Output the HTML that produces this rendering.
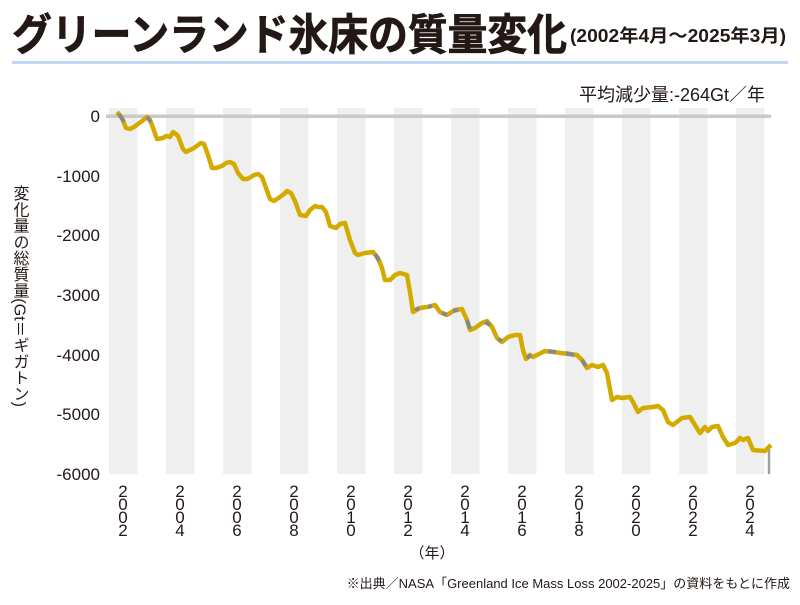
<!DOCTYPE html>
<html><head><meta charset="utf-8"><style>
body{margin:0;background:#fff;width:800px;height:600px;overflow:hidden}
svg text{font-family:"Liberation Sans","Noto Sans CJK JP",sans-serif}
</style></head><body>
<svg width="800" height="600" xmlns="http://www.w3.org/2000/svg">
<text x="12" y="50" font-size="43" font-weight="bold" fill="#231815" stroke="#231815" stroke-width="0.8" textLength="555" lengthAdjust="spacingAndGlyphs">グリーンランド氷床の質量変化</text>
<text x="570" y="42" font-size="18" font-weight="bold" fill="#231815" textLength="216" lengthAdjust="spacingAndGlyphs">(2002年4月～2025年3月)</text>
<rect x="12" y="61" width="776" height="3" fill="#bfd7f4"/>
<text x="765" y="101" font-size="18" text-anchor="end" fill="#231815">平均減少量:-264Gt／年</text>
<g fill="#efefef">
<rect x="109" y="108" width="28.5" height="366"/><rect x="166" y="108" width="28.5" height="366"/><rect x="223" y="108" width="28.5" height="366"/><rect x="280" y="108" width="28.5" height="366"/><rect x="337" y="108" width="28.5" height="366"/><rect x="394" y="108" width="28.5" height="366"/><rect x="451" y="108" width="28.5" height="366"/><rect x="508" y="108" width="28.5" height="366"/><rect x="565" y="108" width="28.5" height="366"/><rect x="622" y="108" width="28.5" height="366"/><rect x="679" y="108" width="28.5" height="366"/><rect x="736" y="108" width="28.5" height="366"/>
</g>
<rect x="106" y="114.5" width="665" height="3.5" fill="#c9c9c9"/>
<g font-size="17" text-anchor="end" fill="#231815">
<text x="100" y="122">0</text><text x="100" y="182">-1000</text><text x="100" y="241">-2000</text><text x="100" y="301">-3000</text><text x="100" y="361">-4000</text><text x="100" y="420">-5000</text><text x="100" y="480">-6000</text>
</g>
<text x="19" y="185" font-size="16" fill="#231815" style="writing-mode:vertical-rl" textLength="222" lengthAdjust="spacingAndGlyphs">変化量の総質量(Gt＝ギガトン)</text>
<g font-size="17" text-anchor="middle" fill="#231815">
<text x="123" y="497">2</text><text x="123" y="510">0</text><text x="123" y="523">0</text><text x="123" y="536">2</text>
<text x="180" y="497">2</text><text x="180" y="510">0</text><text x="180" y="523">0</text><text x="180" y="536">4</text>
<text x="237" y="497">2</text><text x="237" y="510">0</text><text x="237" y="523">0</text><text x="237" y="536">6</text>
<text x="294" y="497">2</text><text x="294" y="510">0</text><text x="294" y="523">0</text><text x="294" y="536">8</text>
<text x="351" y="497">2</text><text x="351" y="510">0</text><text x="351" y="523">1</text><text x="351" y="536">0</text>
<text x="408" y="497">2</text><text x="408" y="510">0</text><text x="408" y="523">1</text><text x="408" y="536">2</text>
<text x="465" y="497">2</text><text x="465" y="510">0</text><text x="465" y="523">1</text><text x="465" y="536">4</text>
<text x="522" y="497">2</text><text x="522" y="510">0</text><text x="522" y="523">1</text><text x="522" y="536">6</text>
<text x="579" y="497">2</text><text x="579" y="510">0</text><text x="579" y="523">1</text><text x="579" y="536">8</text>
<text x="636" y="497">2</text><text x="636" y="510">0</text><text x="636" y="523">2</text><text x="636" y="536">0</text>
<text x="693" y="497">2</text><text x="693" y="510">0</text><text x="693" y="523">2</text><text x="693" y="536">2</text>
<text x="750" y="497">2</text><text x="750" y="510">0</text><text x="750" y="523">2</text><text x="750" y="536">4</text>
</g>
<text x="432" y="558" font-size="15" text-anchor="middle" fill="#231815">（年）</text>
<text x="790" y="588" font-size="13" text-anchor="end" fill="#231815">※出典／NASA「Greenland Ice Mass Loss 2002-2025」の資料をもとに作成</text>
<line x1="769" y1="446" x2="769" y2="474" stroke="#a0a0a0" stroke-width="2.5"/>
<polyline fill="none" stroke="#d4aa00" stroke-width="4.5" stroke-linejoin="round" points="117,112 122,118 126,128 130,129 134,127 138,124 142,121 147,117 150,120 153,128 157,139 163,138 166,136 170,137 173,132 176,134 178,136 183,149 186,152 190,150 194,148 198,145 201,143 204,144 208,155 212,168 216,168 222,166 226,163 230,162 234,164 238,173 243,179 247,179 251,177 254,175 258,174 262,177 266,188 270,199 274,201 280,197 284,194 287,191 291,193 295,201 300,215 306,216 310,210 315,206 318,207 322,207 326,212 330,226 336,228 340,224 345,223 350,240 355,253 358,255 365,253 373,252 378,258 382,268 385,280 390,280 395,275 400,273 407,275 410,292 413,312 420,308 427,307 435,305 440,312 447,315 455,310 462,309 467,320 470,330 475,328 482,323 487,321 492,327 497,338 502,342 508,337 515,335 520,335 523,350 526,359 530,355 533,357 537,355 545,351 553,352 577,355 582,360 587,368 592,365 598,367 603,365 607,373 612,400 617,397 622,398 630,397 633,402 638,412 643,408 653,407 658,406 663,410 668,422 673,425 682,418 690,417 695,425 700,433 705,427 708,431 712,427 718,426 723,437 728,445 735,443 740,438 743,440 748,438 753,450 765,451 771,445"/>
<g stroke="#888" stroke-width="4" fill="none">
<polyline points="119,114 124,122"/><polyline points="147,117 151,122"/>
<polyline points="375,254 379,261"/><polyline points="415,310 419,308"/><polyline points="428,307 432,306"/>
<polyline points="442,313 447,315"/><polyline points="453,311 458,310"/><polyline points="467,320 470,329"/>
<polyline points="485,322 490,325"/><polyline points="498,339 502,341"/><polyline points="527,358 531,355"/>
<polyline points="548,351 556,352"/><polyline points="566,353 574,355"/><polyline points="582,360 586,366"/>
</g>
</svg>
</body></html>
